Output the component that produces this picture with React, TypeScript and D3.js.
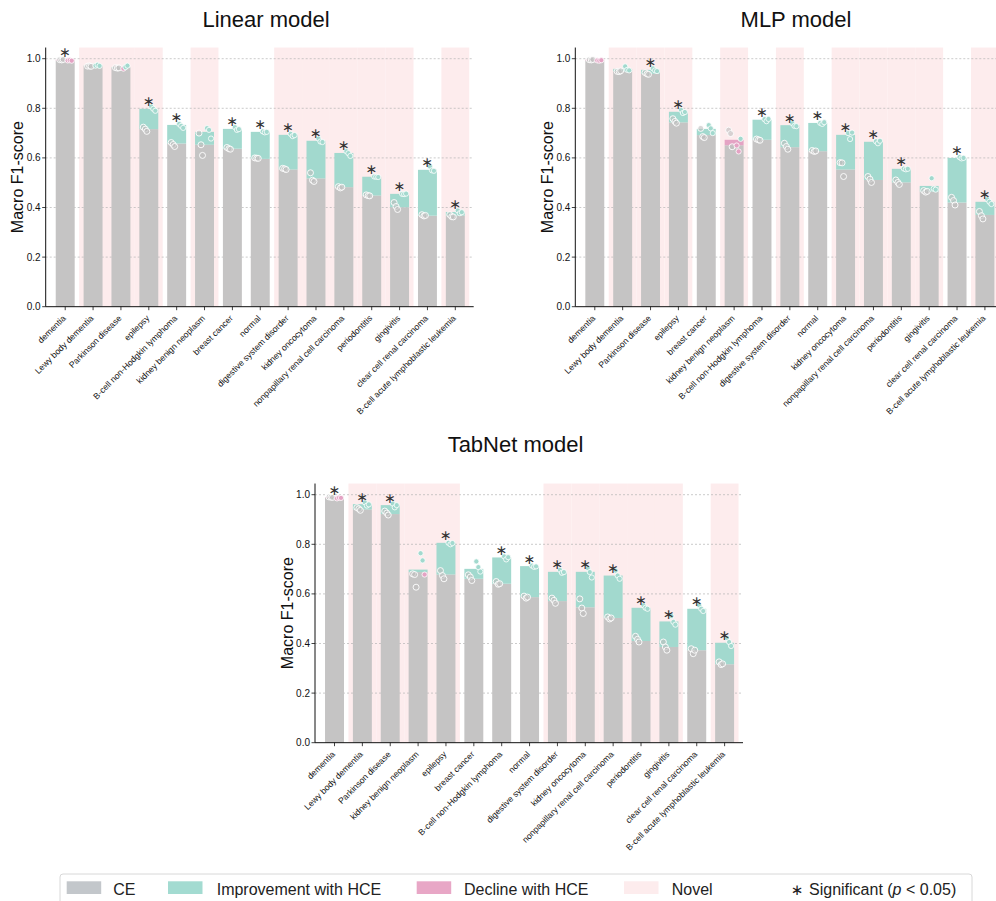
import React from "react";
import * as d3 from "d3";

// Class order per model (bars sorted by CE score)
const CATS_LINEAR = [
  "dementia", "Lewy body dementia", "Parkinson disease", "epilepsy",
  "B-cell non-Hodgkin lymphoma", "kidney benign neoplasm", "breast cancer", "normal",
  "digestive system disorder", "kidney oncocytoma", "nonpapillary renal cell carcinoma",
  "periodontitis", "gingivitis", "clear cell renal carcinoma", "B-cell acute lymphoblastic leukemia",
];
const CATS_MLP = [
  "dementia", "Lewy body dementia", "Parkinson disease", "epilepsy", "breast cancer",
  "kidney benign neoplasm", "B-cell non-Hodgkin lymphoma", "digestive system disorder", "normal",
  "kidney oncocytoma", "nonpapillary renal cell carcinoma", "periodontitis", "gingivitis",
  "clear cell renal carcinoma", "B-cell acute lymphoblastic leukemia",
];
const CATS_TABNET = [
  "dementia", "Lewy body dementia", "Parkinson disease", "kidney benign neoplasm", "epilepsy",
  "breast cancer", "B-cell non-Hodgkin lymphoma", "normal", "digestive system disorder",
  "kidney oncocytoma", "nonpapillary renal cell carcinoma", "periodontitis", "gingivitis",
  "clear cell renal carcinoma", "B-cell acute lymphoblastic leukemia",
];

// Classes unseen during training
const NOVEL_CLASSES = [
  "Lewy body dementia", "Parkinson disease", "epilepsy", "kidney benign neoplasm",
  "digestive system disorder", "kidney oncocytoma", "nonpapillary renal cell carcinoma",
  "periodontitis", "gingivitis", "B-cell acute lymphoblastic leukemia",
];

// Mean macro F1 (CE vs HCE) and significance
const CE_LINEAR = [0.996, 0.970, 0.963, 0.716, 0.658, 0.653, 0.637, 0.596, 0.553, 0.517, 0.482, 0.448, 0.401, 0.367, 0.367];
const HCE_LINEAR = [0.993, 0.972, 0.965, 0.798, 0.733, 0.705, 0.717, 0.705, 0.693, 0.669, 0.620, 0.524, 0.455, 0.552, 0.382];
const SIG_LINEAR = [1, 0, 0, 1, 1, 0, 1, 1, 1, 1, 1, 1, 1, 1, 1];

const CE_MLP = [0.996, 0.949, 0.939, 0.743, 0.692, 0.673, 0.673, 0.643, 0.627, 0.553, 0.511, 0.501, 0.464, 0.420, 0.370];
const HCE_MLP = [0.993, 0.959, 0.955, 0.786, 0.717, 0.651, 0.754, 0.732, 0.741, 0.693, 0.665, 0.556, 0.487, 0.600, 0.423];
const SIG_MLP = [0, 0, 1, 1, 0, 0, 1, 1, 1, 1, 1, 1, 0, 1, 1];

const CE_TABNET = [0.990, 0.940, 0.922, 0.688, 0.678, 0.661, 0.641, 0.587, 0.571, 0.546, 0.503, 0.410, 0.386, 0.373, 0.316];
const HCE_TABNET = [0.988, 0.962, 0.958, 0.698, 0.806, 0.701, 0.747, 0.712, 0.689, 0.689, 0.674, 0.544, 0.489, 0.540, 0.403];
const SIG_TABNET = [1, 1, 1, 0, 1, 0, 1, 1, 1, 1, 1, 1, 1, 1, 1];

// Per-seed scores
const CE_RUNS_LINEAR = [
  [0.996, 0.995, 0.997], [0.970, 0.971, 0.969], [0.964, 0.962, 0.963], [0.724, 0.716, 0.707],
  [0.662, 0.654, 0.646], [0.700, 0.653, 0.610], [0.642, 0.637, 0.635], [0.600, 0.599, 0.598],
  [0.558, 0.556, 0.553], [0.540, 0.510, 0.505], [0.484, 0.479, 0.482], [0.451, 0.448, 0.447],
  [0.420, 0.404, 0.392], [0.371, 0.366, 0.368], [0.371, 0.363, 0.362],
];
const HCE_RUNS_LINEAR = [
  [0.993, 0.994, 0.992], [0.972, 0.975, 0.971], [0.960, 0.966, 0.972], [0.807, 0.798, 0.790],
  [0.737, 0.729, 0.721], [0.720, 0.713, 0.678], [0.724, 0.713, 0.716], [0.707, 0.703, 0.705],
  [0.697, 0.688, 0.692], [0.678, 0.666, 0.664], [0.627, 0.619, 0.608], [0.525, 0.524, 0.523],
  [0.455, 0.454, 0.456], [0.565, 0.550, 0.548], [0.388, 0.377, 0.381],
];
const CE_RUNS_MLP = [
  [0.996, 0.995, 0.997], [0.949, 0.948, 0.951], [0.944, 0.939, 0.937], [0.758, 0.747, 0.740],
  [0.719, 0.686, 0.682], [0.712, 0.698, 0.645], [0.676, 0.673, 0.671], [0.659, 0.646, 0.635],
  [0.630, 0.626, 0.628], [0.581, 0.580, 0.525], [0.525, 0.514, 0.501], [0.511, 0.501, 0.493],
  [0.468, 0.462, 0.465], [0.441, 0.428, 0.410], [0.384, 0.367, 0.354],
];
const HCE_RUNS_MLP = [
  [0.993, 0.992, 0.994], [0.969, 0.955, 0.953], [0.961, 0.953, 0.950], [0.794, 0.781, 0.785],
  [0.732, 0.719, 0.700], [0.650, 0.626, 0.677], [0.756, 0.748, 0.757], [0.740, 0.729, 0.728],
  [0.741, 0.737, 0.744], [0.700, 0.676, 0.702], [0.667, 0.659, 0.669], [0.557, 0.554, 0.556],
  [0.518, 0.476, 0.472], [0.603, 0.598, 0.600], [0.433, 0.423, 0.414],
];
const CE_RUNS_TABNET = [
  [0.991, 0.990, 0.989], [0.948, 0.943, 0.937], [0.934, 0.926, 0.918], [0.681, 0.678, 0.627],
  [0.694, 0.674, 0.661], [0.677, 0.668, 0.654], [0.650, 0.639, 0.641], [0.591, 0.583, 0.587],
  [0.583, 0.574, 0.562], [0.580, 0.543, 0.521], [0.507, 0.499, 0.503], [0.429, 0.417, 0.406],
  [0.406, 0.386, 0.373], [0.379, 0.359, 0.373], [0.326, 0.315, 0.318],
];
const HCE_RUNS_TABNET = [
  [0.985, 0.988, 0.987], [0.969, 0.956, 0.961], [0.964, 0.949, 0.958], [0.764, 0.735, 0.678],
  [0.806, 0.800, 0.805], [0.731, 0.708, 0.690], [0.751, 0.739, 0.748], [0.714, 0.709, 0.711],
  [0.697, 0.685, 0.688], [0.704, 0.688, 0.666], [0.694, 0.674, 0.661], [0.554, 0.544, 0.540],
  [0.511, 0.487, 0.476], [0.554, 0.540, 0.531], [0.422, 0.406, 0.390],
];

const Y_TICKS = [0, 0.2, 0.4, 0.6, 0.8, 1.0];
const LEGEND_LABELS = ["CE", "Improvement with HCE", "Decline with HCE", "Novel"];

const COLORS = {
  ce: "#c5c4c4",
  up: "#a2d9ce",
  down: "#e4a3c4",
  novel: "#fdeced",
  grid: "#b5b5b5",
  star: "#333333",
  legendCe: "#c3c7cb",
  legendUp: "#a3dbd1",
  legendDown: "#e8a7c6",
};

const FONT = "'Liberation Sans', Arial, Helvetica, sans-serif";
const Y_MAX = 1.045;
const UNIT_PX = 248;
const AXIS_W = 428;
const CE_JITTER = [-5.5, -3.5, -2];
const HCE_JITTER = [2.5, 4.5, 6.5];

type PanelProps = {
  title: string;
  titleX: number;
  titleY: number;
  left: number;
  zeroY: number;
  cats: string[];
  ce: number[];
  hce: number[];
  sig: number[];
  ceRuns: number[][];
  hceRuns: number[][];
};

function Panel(p: PanelProps) {
  const x = d3.scaleLinear().domain([-0.7, 14.66]).range([p.left, p.left + AXIS_W]);
  const y = d3.scaleLinear().domain([0, Y_MAX]).range([p.zeroY, p.zeroY - Y_MAX * UNIT_PX]);
  const step = x(1) - x(0);
  const bw = step * 0.68;
  const top = y(Y_MAX);

  return (
    <g>
      <text x={p.titleX} y={p.titleY} textAnchor="middle" fontSize={22} fontFamily={FONT} fill="#111">
        {p.title}
      </text>
      {/* novel-class shading */}
      {p.cats.map((c, i) =>
        NOVEL_CLASSES.includes(c) ? (
          <rect key={"n" + i} x={x(i - 0.5)} y={top} width={step} height={p.zeroY - top} fill={COLORS.novel} />
        ) : null
      )}
      {/* grid */}
      {Y_TICKS.filter((t) => t > 0).map((t) => (
        <line key={"g" + t} x1={p.left} x2={p.left + AXIS_W} y1={y(t)} y2={y(t)}
          stroke={COLORS.grid} strokeWidth={0.7} strokeDasharray="2,2" />
      ))}
      {/* bars */}
      {p.cats.map((c, i) => {
        const lo = Math.min(p.ce[i], p.hce[i]);
        const hi = Math.max(p.ce[i], p.hce[i]);
        const up = p.hce[i] >= p.ce[i];
        return (
          <g key={"b" + i}>
            <rect x={x(i) - bw / 2} y={y(lo)} width={bw} height={p.zeroY - y(lo)} fill={COLORS.ce} />
            <rect x={x(i) - bw / 2} y={y(hi)} width={bw} height={y(lo) - y(hi)} fill={up ? COLORS.up : COLORS.down} />
          </g>
        );
      })}
      {/* per-seed points */}
      {p.cats.map((c, i) => (
        <g key={"p" + i}>
          {p.ceRuns[i].map((v, k) => (
            <circle key={"c" + k} cx={x(i) + CE_JITTER[k]} cy={y(v)} r={3}
              fill="rgba(190,190,190,0.6)" stroke="#ffffff" strokeWidth={0.9} />
          ))}
          {p.hceRuns[i].map((v, k) => (
            <circle key={"h" + k} cx={x(i) + HCE_JITTER[k]} cy={y(v)} r={2.6}
              fill={v >= p.ce[i] ? COLORS.up : COLORS.down} stroke="#ffffff" strokeWidth={0.8} />
          ))}
        </g>
      ))}
      {/* significance markers */}
      {p.cats.map((c, i) =>
        p.sig[i] ? (
          <text key={"s" + i} x={x(i)} y={y(Math.max(p.ce[i], p.hce[i])) - 2.5} textAnchor="middle"
            fontSize={14} fontFamily="'DejaVu Sans', sans-serif" fill={COLORS.star}>
            ∗
          </text>
        ) : null
      )}
      {/* y axis */}
      <line x1={p.left} x2={p.left} y1={top} y2={p.zeroY} stroke="#111" strokeWidth={1} />
      {Y_TICKS.map((t) => (
        <g key={"yt" + t}>
          <line x1={p.left - 3.5} x2={p.left} y1={y(t)} y2={y(t)} stroke="#111" strokeWidth={0.8} />
          <text x={p.left - 5} y={y(t)} dy="0.35em" textAnchor="end" fontSize={10} fontFamily={FONT} fill="#111">
            {t.toFixed(1)}
          </text>
        </g>
      ))}
      <text transform={`translate(${p.left - 28},${(top + p.zeroY) / 2}) rotate(-90)`} textAnchor="middle"
        dy="0.35em" fontSize={16} fontFamily={FONT} fill="#111">
        Macro F1-score
      </text>
      {/* x axis */}
      <line x1={p.left} x2={p.left + AXIS_W} y1={p.zeroY} y2={p.zeroY} stroke="#111" strokeWidth={1} />
      {p.cats.map((c, i) => (
        <g key={"xt" + i}>
          <line x1={x(i)} x2={x(i)} y1={p.zeroY} y2={p.zeroY + 3.5} stroke="#111" strokeWidth={0.8} />
          <text transform={`translate(${x(i) - 1},${p.zeroY + 10}) rotate(-45)`} textAnchor="end" dy="0.35em"
            fontSize={8.6} fontFamily={FONT} fill="#111">
            {c}
          </text>
        </g>
      ))}
    </g>
  );
}

function Legend() {
  const swatches = [
    { x: 66.7, color: COLORS.legendCe, tx: 113.3 },
    { x: 168, color: COLORS.legendUp, tx: 216.7 },
    { x: 416.7, color: COLORS.legendDown, tx: 464 },
    { x: 624, color: COLORS.novel, tx: 671.7 },
  ];
  return (
    <g fontFamily={FONT} fontSize={16} fill="#222">
      <rect x={60} y={874} width={912} height={34} rx={3} fill="#fff" stroke="#d8d8d8" strokeWidth={1} />
      {swatches.map((s, i) => (
        <g key={i}>
          <rect x={s.x} y={881.3} width={34.5} height={12.7} fill={s.color} />
          <text x={s.tx} y={894.5}>{LEGEND_LABELS[i]}</text>
        </g>
      ))}
      <text x={797} y={895} textAnchor="middle" fontFamily="'DejaVu Sans', sans-serif" fontSize={15}>∗</text>
      <text x={809} y={894.5}>
        Significant (<tspan fontStyle="italic">p</tspan> &lt; 0.05)
      </text>
    </g>
  );
}

export default function App() {
  return (
    <svg width={996} height={901} style={{ position: "absolute", left: 0, top: 0, background: "#fff" }}>
      <rect width={996} height={901} fill="#fff" />
      <Panel title="Linear model" titleX={266} titleY={26.7} left={45.7} zeroY={306.7}
        cats={CATS_LINEAR} ce={CE_LINEAR} hce={HCE_LINEAR} sig={SIG_LINEAR}
        ceRuns={CE_RUNS_LINEAR} hceRuns={HCE_RUNS_LINEAR} />
      <Panel title="MLP model" titleX={796} titleY={26.7} left={575.3} zeroY={306.7}
        cats={CATS_MLP} ce={CE_MLP} hce={HCE_MLP} sig={SIG_MLP}
        ceRuns={CE_RUNS_MLP} hceRuns={HCE_RUNS_MLP} />
      <Panel title="TabNet model" titleX={515.5} titleY={451.7} left={315} zeroY={742.7}
        cats={CATS_TABNET} ce={CE_TABNET} hce={HCE_TABNET} sig={SIG_TABNET}
        ceRuns={CE_RUNS_TABNET} hceRuns={HCE_RUNS_TABNET} />
      <Legend />
    </svg>
  );
}
